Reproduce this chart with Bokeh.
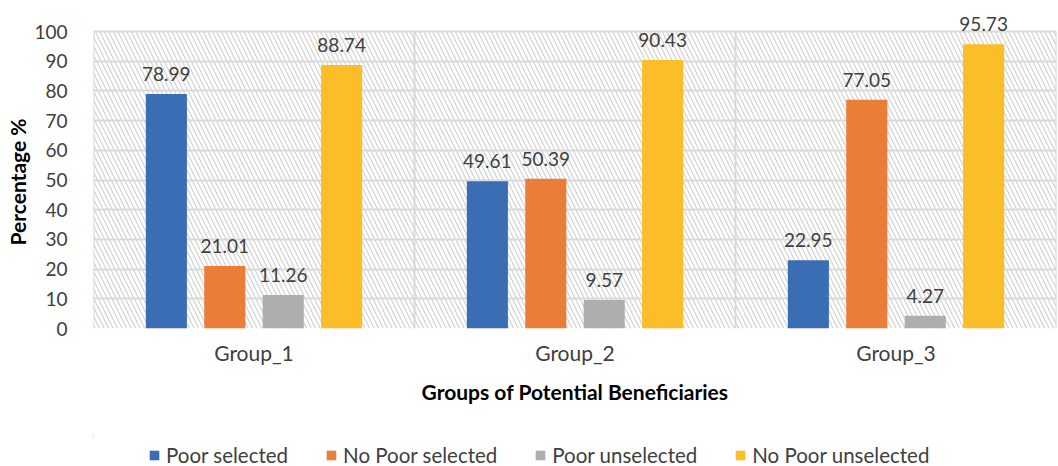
from bokeh.plotting import figure
from bokeh.layouts import column
from bokeh.models import (ColumnDataSource, Range1d, FixedTicker, Legend, LegendItem,
                          BoxAnnotation, LabelSet, Title)
from bokeh.core.properties import value
from bokeh.transform import dodge
from bokeh.embed import file_html
from bokeh.resources import INLINE

groups = ["Group_1", "Group_2", "Group_3"]
series = ["Poor selected", "No Poor selected", "Poor unselected", "No Poor unselected"]
poor_selected = [78.99, 49.61, 22.95]
no_poor_selected = [21.01, 50.39, 77.05]
poor_unselected = [11.26, 9.57, 4.27]
no_poor_unselected = [88.74, 90.43, 95.73]
y_ticks = [0, 10, 20, 30, 40, 50, 60, 70, 80, 90, 100]
colors = ["#3b6db4", "#ea7d38", "#aeaeb0", "#fbbd28"]

FONT = "Lato"
TXT = "#404040"
GRID = "#d9d9d9"
Y_MAX = y_ticks[-1]
Y_VIEW = 109.1  # headroom above the last gridline for the value labels

centers = [i + 0.5 for i in range(len(groups))]
data = {"x": centers, "s0": poor_selected, "s1": no_poor_selected,
        "s2": poor_unselected, "s3": no_poor_unselected}
for k in ["s0", "s1", "s2", "s3"]:
    data[k + "_lbl"] = ["%.2f" % v for v in data[k]]
source = ColumnDataSource(data)

p = figure(width=1058, height=436, output_backend="svg", toolbar_location=None,
           x_range=Range1d(0, len(groups)), y_range=Range1d(0, Y_VIEW),
           min_border_left=92, min_border_right=2, min_border_top=4,
           min_border_bottom=108)
p.outline_line_color = None
p.background_fill_color = "white"

# diagonal hatching behind the value region
p.add_layout(BoxAnnotation(bottom=0, top=Y_MAX, fill_alpha=0, line_alpha=0,
                           hatch_pattern="\\", hatch_color="#d6d6d6",
                           hatch_scale=9, hatch_weight=1.3, level="image"))

# vertical separators between the groups (and at both edges)
edges = list(range(len(groups) + 1))
p.segment(x0=edges, y0=[0] * len(edges), x1=edges, y1=[Y_MAX] * len(edges),
          line_color=GRID, line_width=2, level="underlay")

offsets = [-0.273, -0.091, 0.091, 0.273]
bar_w = 0.128
for i, col in enumerate(colors):
    key = "s%d" % i
    xs = dodge("x", offsets[i], range=p.x_range)
    p.vbar(x=xs, top=key, width=bar_w, source=source,
           fill_color=col, line_color=None)
    p.add_layout(LabelSet(x=xs, y=key, text=key + "_lbl", source=source,
                          text_align="center", text_baseline="bottom", y_offset=13,
                          text_font=value(FONT), text_font_size=value("19px"),
                          text_color=TXT))

# horizontal gridlines every 10
p.ygrid.ticker = FixedTicker(ticks=y_ticks)
p.ygrid.grid_line_color = GRID
p.ygrid.grid_line_width = 2
p.xgrid.visible = False

# axes
p.yaxis.ticker = FixedTicker(ticks=y_ticks)
p.yaxis.axis_line_color = None
p.yaxis.major_tick_line_color = None
p.yaxis.minor_tick_line_color = None
p.yaxis.major_label_standoff = 20
p.yaxis.major_label_text_font = FONT
p.yaxis.major_label_text_font_size = "19px"
p.yaxis.major_label_text_color = TXT

ytitle = Title(text="Percentage %", align="left", offset=83, standoff=4,
               text_font=FONT, text_font_size="21px", text_font_style="bold",
               text_color="#000000")
p.add_layout(ytitle, "left")

p.xaxis.ticker = FixedTicker(ticks=centers)
p.xaxis.major_label_overrides = {c: g for c, g in zip(centers, groups)}
p.xaxis.axis_line_color = None
p.xaxis.major_tick_line_color = None
p.xaxis.minor_tick_line_color = None
p.xaxis.major_label_standoff = 5
p.xaxis.major_label_text_font = FONT
p.xaxis.major_label_text_font_size = "21px"
p.xaxis.major_label_text_color = TXT
p.xaxis.axis_label = "Groups of Potential Beneficiaries"
p.xaxis.axis_label_text_font = FONT
p.xaxis.axis_label_text_font_size = "21px"
p.xaxis.axis_label_text_font_style = "bold"
p.xaxis.axis_label_text_color = "#000000"
p.xaxis.axis_label_standoff = 11

# legend strip underneath; its swatch glyphs lie outside the strip's visible ranges
lg = figure(width=1058, height=30, output_backend="svg", toolbar_location=None,
            x_range=Range1d(100, 101), y_range=Range1d(-1001, -1000),
            min_border=0, outline_line_color=None)
lg.axis.visible = False
lg.grid.visible = False
items = []
for i, (name, col) in enumerate(zip(series, colors)):
    r = lg.vbar(x=dodge("x", offsets[i], range=lg.x_range), top="s%d" % i,
                width=bar_w, source=source, fill_color=col, line_color=None)
    items.append(LegendItem(label=name, renderers=[r]))
legend = Legend(items=items, orientation="horizontal", location=(55, -1),
                border_line_alpha=0, background_fill_alpha=0,
                label_text_font=FONT, label_text_font_size="20.5px",
                label_text_color=TXT, glyph_width=12, glyph_height=12,
                label_standoff=6, spacing=37, margin=0, padding=0)
lg.add_layout(legend, "center")

layout = column(p, lg, spacing=0)
open("out.html", "w").write(file_html(layout, INLINE))
